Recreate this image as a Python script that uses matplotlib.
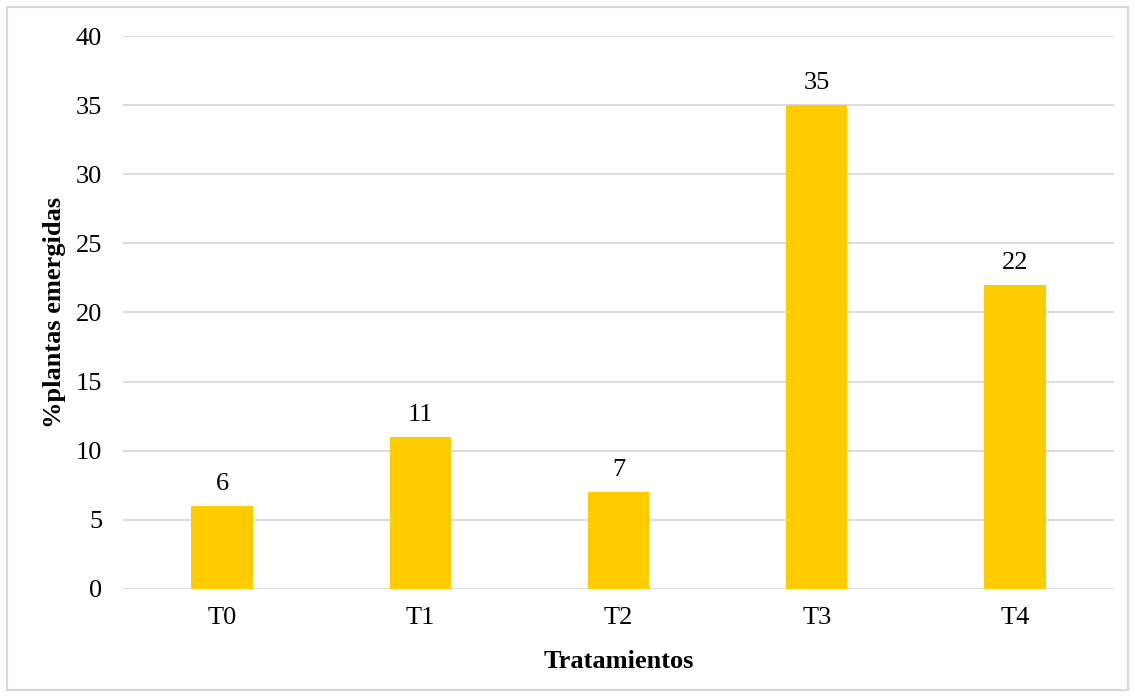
import matplotlib
matplotlib.use("Agg")
import matplotlib.pyplot as plt
from matplotlib.patches import Rectangle

categories = ["T0", "T1", "T2", "T3", "T4"]
values = [6, 11, 7, 35, 22]
yticks = [0, 5, 10, 15, 20, 25, 30, 35, 40]

plt.rcParams["font.family"] = ["Liberation Serif", "DejaVu Serif"]

fig = plt.figure(figsize=(11.35, 6.98), dpi=100)
ax = fig.add_axes([0.1084, 0.1562, 0.8731, 0.7922])

x = range(len(categories))
bars = ax.bar(x, values, width=0.31, color="#FFCC00", zorder=3)

for xi, v in zip(x, values):
    ax.annotate(f"{v}", (xi, v), xytext=(0, 8), textcoords="offset points",
                ha="center", va="bottom", fontsize=19, color="#000000")

ax.set_xlim(-0.5, len(categories) - 0.5)
ax.set_ylim(0, 40)
ax.set_yticks(yticks)
ax.set_xticks(list(x))
ax.set_xticklabels(categories)
ax.tick_params(axis="both", length=0, labelsize=19, colors="#000000")
ax.tick_params(axis="y", pad=15)
ax.tick_params(axis="x", pad=13)
ax.yaxis.grid(True, color="#D9D9D9", linewidth=1.3, zorder=0)
for s in ax.spines.values():
    s.set_visible(False)

ax.set_xlabel("Tratamientos", fontsize=19, fontweight="bold", labelpad=15)
ax.set_ylabel("%plantas emergidas", fontsize=19, fontweight="bold", labelpad=7)

fig.patches.append(Rectangle((7 / 1135, 8 / 698), 1121 / 1135, 683 / 698,
                             transform=fig.transFigure, fill=False,
                             edgecolor="#D9D9D9", linewidth=1.5))

fig.savefig("out.png", dpi=100)
